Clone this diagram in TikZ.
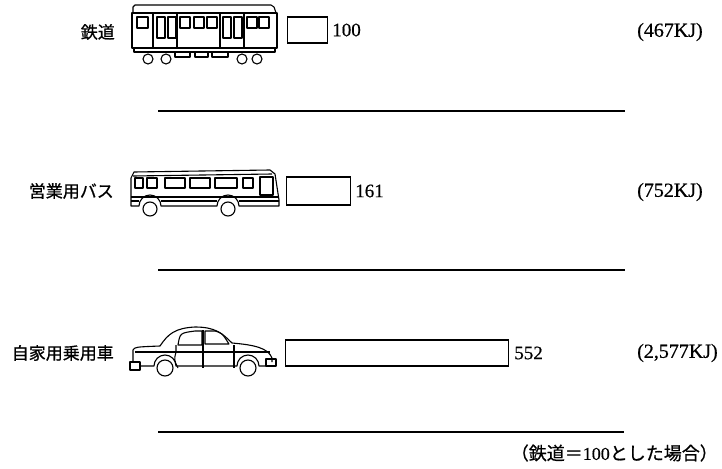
\documentclass[tikz,border=0pt]{standalone}
\usepackage{fontspec}
\setmainfont{Liberation Serif}
\newfontfamily\jp[FakeBold=0.8]{Noto Sans CJK JP}
\newfontfamily\num[FakeBold=0.5]{Liberation Serif}
\usetikzlibrary{positioning}

\begin{document}
\begin{tikzpicture}[x=1pt, y=-1pt,
    mode/.style={anchor=east, inner sep=0pt, font=\jp\fontsize{17}{17}\selectfont},
    bar/.style={draw, line width=1.1pt, anchor=west, inner sep=0pt, minimum height=26pt},
    value/.style={inner sep=0pt, font=\num\fontsize{19}{19}\selectfont},
    energy/.style={anchor=west, inner sep=0pt, font=\num\fontsize{20}{20}\selectfont},
    rule/.style={line width=1.2pt},
    vehicle/.style={line width=1.1pt, line join=round}
]
\useasboundingbox (0,0) rectangle (722,468);

% train
\begin{scope}[vehicle]
\draw (133,13) -- (133,7) -- (135,5) -- (271,5) -- (274,7) -- (276,13);
\draw (132,13) rectangle (277,48);
\draw (134,48) rectangle (275,52);
\draw (137,17) rectangle (148,28);
\draw (153,13) -- (153,48) (177,13) -- (177,48);
\draw (157,17) rectangle (165,38) (168,17) rectangle (176,38);
\draw (180,17) rectangle (190,28) (194,17) rectangle (204,28) (207,17) rectangle (217,28);
\draw (220,13) -- (220,48) (244,13) -- (244,48);
\draw (223,17) rectangle (231,38) (234,17) rectangle (242,38);
\draw (247,17) rectangle (257,28) (259,17) rectangle (269,28);
\draw (175,52) rectangle (190,57) (195,52) rectangle (208,57) (212,52) rectangle (228,57);
\foreach \x in {148,166,242,257}
    \draw[fill=white] (\x,59) circle (5pt);
\end{scope}

% bus
\begin{scope}[vehicle]
\draw (131,206) -- (131,178) -- (134,172) -- (270,170) -- (275,174) -- (279,200) -- (279,206)
    -- (239,206) arc[start angle=0, end angle=180, radius=11pt]
    -- (161,206) arc[start angle=0, end angle=180, radius=11pt] -- cycle;
\draw (133,176) -- (272,174);
\draw (135,178) rectangle (143,188) (147,178) rectangle (157,188) (165,178) rectangle (185,188)
    (190,178) rectangle (210,188) (215,178) rectangle (237,188) (243,178) rectangle (253,188);
\draw (260,177) rectangle (273,195);
\draw (131,197) -- (279,197);
\draw (131,201) -- (139,201) (161,201) -- (217,201) (239,201) -- (279,201);
\foreach \x in {150,228}
    \draw[fill=white] (\x,209) circle (7pt);
\end{scope}

% car
\begin{scope}[vehicle]
\draw (133,362) -- (133,350) .. controls (135,347) .. (160,346)
    .. controls (168,334) and (175,328) .. (195,327)
    .. controls (215,327) and (222,333) .. (232,343)
    .. controls (255,345) and (268,348) .. (272,358) -- (272,362);
\draw (140,366) -- (154,366) arc[start angle=180, end angle=0, radius=11pt]
    -- (237,366) arc[start angle=180, end angle=0, radius=11pt] -- (266,366);
\draw (178,345) .. controls (180,333) .. (195,331) -- (202,331) -- (202,345) -- cycle;
\draw (205,331) -- (215,331) .. controls (222,333) .. (229,344) -- (205,344) -- cycle;
\draw (135,352) -- (270,352);
\draw (203,330) -- (203,368);
\draw (176,345) -- (176,352) .. controls (174,360) .. (178,368);
\draw (234,345) -- (234,368);
\draw (130,362) rectangle (140,370);
\draw (266,359) rectangle (276,366);
\foreach \x in {165,248}
    \draw[fill=white] (\x,368) circle (8pt);
\end{scope}

\node[mode] (rail) at (115,32) {鉄道};
\node[mode] (bus) at (114,191) {営業用バス};
\node[mode] (car) at (114,353) {自家用乗用車};

\node[bar, minimum width=40pt] (bar1) at (287,30) {};
\node[bar, minimum width=64pt, minimum height=28pt] (bar2) at (286,191) {};
\node[bar, minimum width=223pt] (bar3) at (285,353) {};

\node[value, right=4pt of bar1] (v1) {100};
\node[value, right=4pt of bar2] (v2) {161};
\node[value, right=5pt of bar3] (v3) {552};

\node[energy] (e1) at (637,32) {(467KJ)};
\node[energy] (e2) at (637,192) {(752KJ)};
\node[energy] (e3) at (637,353) {(2,577KJ)};

\draw[rule] (158,111) -- (625,111);
\draw[rule] (158,270) -- (625,270);
\draw[rule] (158,432) -- (624,432);

\node[anchor=east, inner sep=0pt, font=\jp\fontsize{18}{18}\selectfont] (note) at (718,453)
    {（鉄道＝{\num\fontsize{18}{18}\selectfont 100}とした場合）};
\end{tikzpicture}
\end{document}
